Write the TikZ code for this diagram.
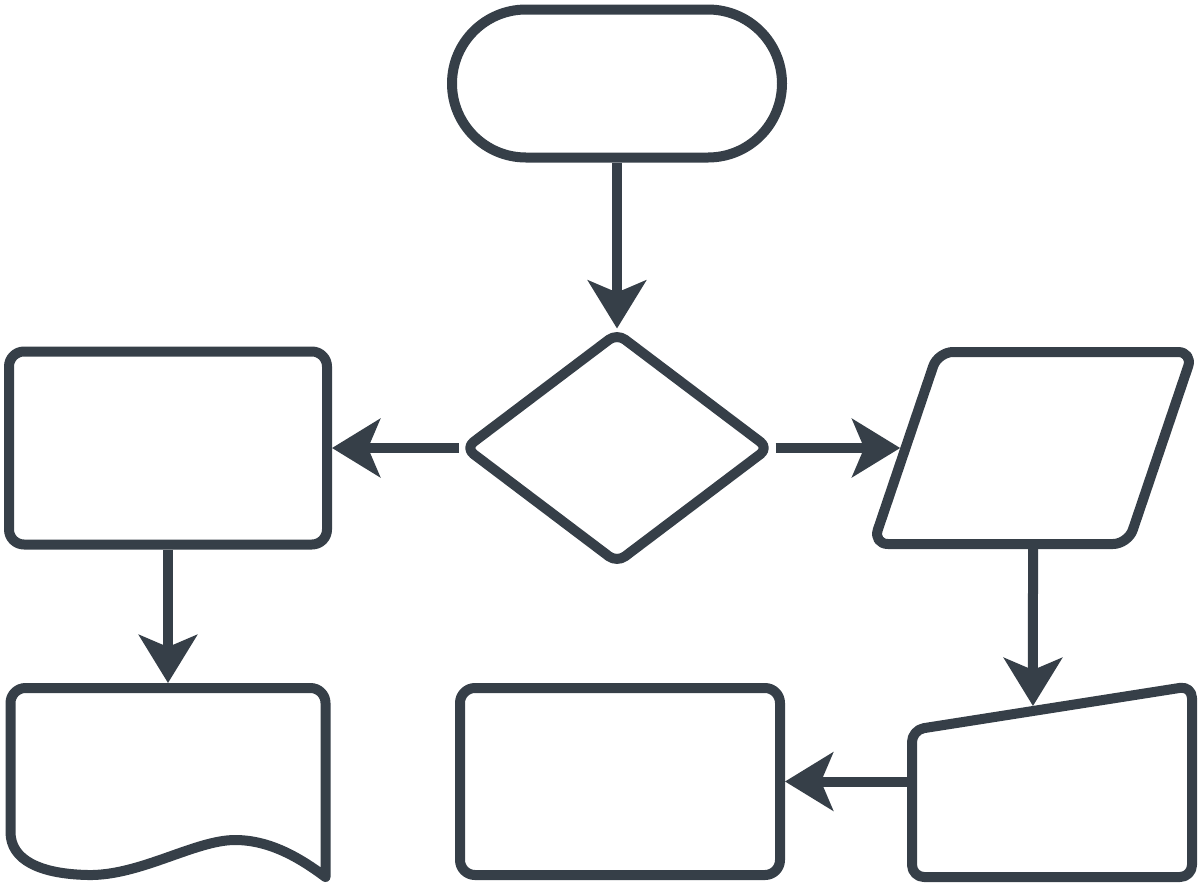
\documentclass[tikz,border=0pt]{standalone}
\usetikzlibrary{arrows.meta,shapes.geometric,shapes.misc,calc}
\definecolor{ink}{RGB}{54,63,72}
\begin{document}
\begin{tikzpicture}[x=1pt,y=-1pt,
  line/.style={draw=ink,line width=10pt,line join=round},
  ghost/.style={line width=10pt,draw=none,inner sep=0pt,rectangle},
  arr/.style={draw=ink,line width=10pt,-{Stealth[length=48pt,width=58pt,inset=12pt]}},
  box/.style={line,rectangle,rounded corners=15pt,inner sep=0pt}]
\useasboundingbox (0,0) rectangle (1200,887);
% nodes
\node[line,rounded rectangle,minimum width=330pt,minimum height=148pt,inner sep=0pt] (term) at (617,83.5) {};
\node[line,diamond,rounded corners=10pt,minimum width=307pt,minimum height=233pt,inner sep=0pt] (dia) at (617,448) {};
\node[box,minimum width=318pt,minimum height=193pt] (lrect) at (168,448) {};
\node[ghost,minimum width=320pt,minimum height=192pt] (para) at (1033,448) {};
\node[box,minimum width=320pt,minimum height=187pt] (mrect) at (620,781.5) {};
\node[ghost,minimum width=280pt,minimum height=191pt] (mi) at (1052,781.5) {};
\node[ghost,minimum width=315pt,minimum height=189pt] (doc) at (168,782.5) {};
% parallelogram outline
\coordinate (pTL) at (938,352);
\coordinate (pTR) at (1193,352);
\coordinate (pBR) at (1128,544);
\coordinate (pBL) at (873,544);
\draw[line,rounded corners=15pt] (pTL) -- (pTR) -- (pBR) -- (pBL) -- cycle;
\coordinate (pleft) at ($(pTL)!0.5!(pBL)$);
% manual input outline
\coordinate (miTL) at (912,730);
\coordinate (miTR) at (1192,686);
\coordinate (miBR) at (1192,877);
\coordinate (miBL) at (912,877);
\draw[line,rounded corners=12pt] (miTL) -- (miTR) -- (miBR) -- (miBL) -- cycle;
\coordinate (mitop) at ($(miTL)!0.432!(miTR)$);
% document outline
\draw[line] (10.5,832) [rounded corners=15pt] -- (10.5,688) -- (325.5,688) -- (325.5,760) [sharp corners] -- (325.5,877)
  .. controls (300,858) and (270,840) .. (235,840)
  .. controls (195,840) and (140,876) .. (88,875)
  .. controls (40,874) and (10.5,860) .. (10.5,832) -- cycle;
% connectors
\draw[arr,shorten >=-2pt] (term.south) -- (dia.north);
\draw[arr] (dia.west) -- (lrect.east);
\draw[arr,shorten >=5.3pt] (dia.east) -- (pleft);
\draw[arr] (lrect.south) -- (doc.north);
\draw[arr,shorten >=5pt] (para.south) -- (mitop);
\draw[arr] (mi.west) -- (mrect.east);
\end{tikzpicture}
\end{document}
